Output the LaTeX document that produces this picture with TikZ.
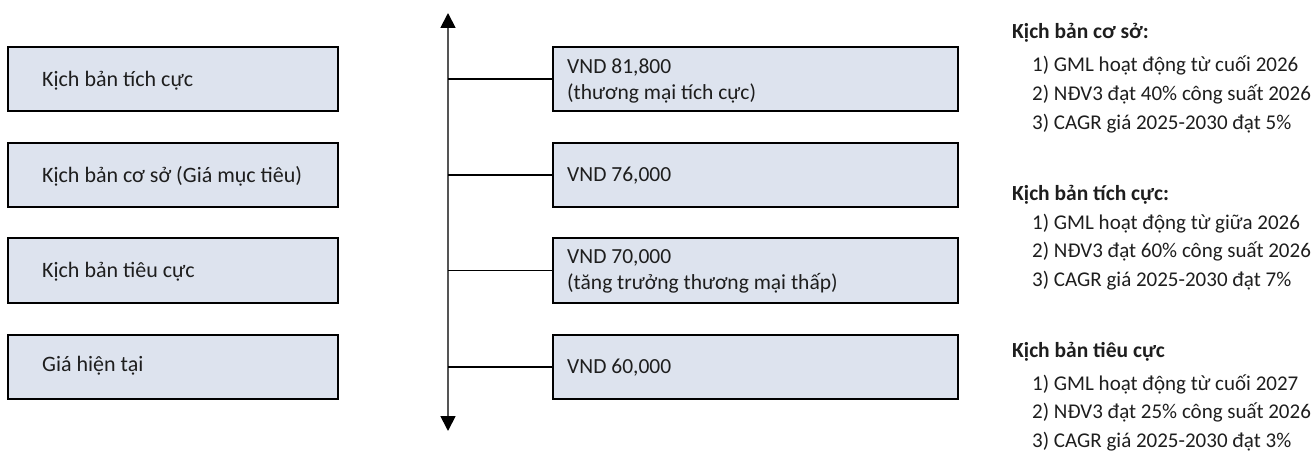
\documentclass[tikz,border=0pt]{standalone}
\usepackage{fontspec}
\setmainfont{Carlito}
\usetikzlibrary{arrows.meta}
\definecolor{boxfill}{HTML}{DDE3EE}
\definecolor{txt}{HTML}{1E1E1E}
\definecolor{axisc}{HTML}{555555}
\begin{document}
\begin{tikzpicture}[x=1pt,y=-1pt,
  scenbox/.style={draw=black,line width=2pt,fill=boxfill,minimum height=64pt,inner sep=0pt},
  lefttext/.style={anchor=west,text=txt,font=\fontsize{22}{26}\selectfont,inner sep=0pt},
  valtext/.style={anchor=west,text=txt,font=\fontsize{21.5}{26}\selectfont,align=left,inner sep=0pt},
  heading/.style={anchor=base west,text=txt,font=\fontsize{21.5}{24}\selectfont\bfseries,inner sep=0pt},
  item/.style={anchor=base west,text=txt,font=\fontsize{21}{24}\selectfont,inner sep=0pt},
  conn/.style={draw=black,line width=1.8pt},
  axisline/.style={draw=axisc,line width=1.8pt,{Triangle[width=15pt,length=15pt,color=black]}-{Triangle[width=15pt,length=15pt,color=black]}}
]
\useasboundingbox (0,0) rectangle (1315,457);
% left boxes
\node[scenbox,minimum width=330pt] (l1) at (173,79) {};
\node[scenbox,minimum width=330pt] (l2) at (173,175) {};
\node[scenbox,minimum width=330pt] (l3) at (173,270.5) {};
\node[scenbox,minimum width=330pt] (l4) at (173,367) {};
\node[lefttext] (lt1) at (42,81) {Kịch bản tích cực};
\node[lefttext] (lt2) at (42,176) {Kịch bản cơ sở (Giá mục tiêu)};
\node[lefttext] (lt3) at (42,272) {Kịch bản tiêu cực};
\node[lefttext] (lt4) at (42,366) {Giá hiện tại};
% right boxes
\node[scenbox,minimum width=405pt] (r1) at (755.5,79) {};
\node[scenbox,minimum width=405pt] (r2) at (755.5,175) {};
\node[scenbox,minimum width=405pt] (r3) at (755.5,270.5) {};
\node[scenbox,minimum width=405pt] (r4) at (755.5,367) {};
\node[valtext] (rt1) at (567,81) {VND 81,800\\(thương mại tích cực)};
\node[valtext] (rt2) at (567,176) {VND 76,000};
\node[valtext] (rt3) at (567,271) {VND 70,000\\(tăng trưởng thương mại thấp)};
\node[valtext] (rt4) at (567,368) {VND 60,000};
% axis
\coordinate (atop) at (448,13);
\coordinate (abot) at (448,431);
\draw[axisline] (abot) -- (atop);
\coordinate (c1) at (448,79);
\coordinate (c2) at (448,175);
\coordinate (c3) at (448,270.5);
\coordinate (c4) at (448,367);
\draw[conn] (c1) -- (r1.west);
\draw[conn] (c2) -- (r2.west);
\draw[conn] (c3) -- (r3.west);
\draw[conn] (c4) -- (r4.west);
% right descriptions
\node[heading] (h1) at (1012,39) {Kịch bản cơ sở:};
\node[item] (h1a) at (1032,72) {1) GML hoạt động từ cuối 2026};
\node[item] (h1b) at (1032,101) {2) NĐV3 đạt 40\% công suất 2026};
\node[item] (h1c) at (1032,130) {3) CAGR giá 2025-2030 đạt 5\%};
\node[heading] (h2) at (1012,201) {Kịch bản tích cực:};
\node[item] (h2a) at (1032,230) {1) GML hoạt động từ giữa 2026};
\node[item] (h2b) at (1032,258) {2) NĐV3 đạt 60\% công suất 2026};
\node[item] (h2c) at (1032,287) {3) CAGR giá 2025-2030 đạt 7\%};
\node[heading] (h3) at (1012,357) {Kịch bản tiêu cực};
\node[item] (h3a) at (1032,390) {1) GML hoạt động từ cuối 2027};
\node[item] (h3b) at (1032,418) {2) NĐV3 đạt 25\% công suất 2026};
\node[item] (h3c) at (1032,447) {3) CAGR giá 2025-2030 đạt 3\%};
\end{tikzpicture}
\end{document}
